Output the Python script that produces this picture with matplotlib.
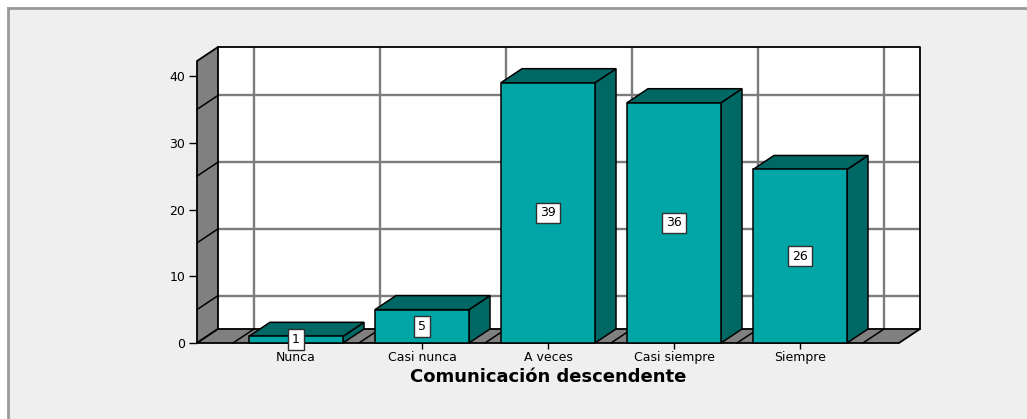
import matplotlib
matplotlib.use("Agg")
import matplotlib.pyplot as plt
from matplotlib.patches import Rectangle, Polygon
import matplotlib.transforms as mtransforms

# Data
categories = ["Nunca", "Casi nunca", "A veces", "Casi siempre", "Siempre"]
counts = [1, 5, 39, 36, 26]
y_ticks = [0, 10, 20, 30, 40]
grid_values = [5, 15, 25, 35]
x_title = "Comunicación descendente"

# Styling
FRONT = "#00a6a6"
DARK = "#006864"
WALL = "#808080"
GRID = "#7c7c7c"
BG = "#efefef"
plt.rcParams["font.family"] = ["DejaVu Sans"]

W, H = 1027, 419
fig = plt.figure(figsize=(W / 100, H / 100), dpi=100, facecolor="white")

# Panel background with a grey line on the top and left edges
fig.patches.append(Rectangle((8 / W, 0), 1 - 8 / W, 1 - 8 / H, transform=fig.transFigure,
                             facecolor=BG, edgecolor="none", zorder=-5))
fig.add_artist(plt.Line2D([8 / W, 1], [1 - 8 / H, 1 - 8 / H], transform=fig.transFigure,
                          color="#9a9a9a", lw=2, zorder=-4))
fig.add_artist(plt.Line2D([8 / W, 8 / W], [0, 1 - 8 / H], transform=fig.transFigure,
                          color="#9a9a9a", lw=2, zorder=-4))

# Axes occupying the front plane plus the depth offset of the 3D box
left_px, right_px, top_px, bottom_px = 197, 920, 47, 343
ax = fig.add_axes([left_px / W, 1 - bottom_px / H, (right_px - left_px) / W, (bottom_px - top_px) / H])
ax.set_zorder(2)
ax.set_facecolor("none")

n = len(categories)
margin = 0.2857           # floor margin beyond the outer category edges
XL, XR = -0.5 - margin, n - 0.5 + margin
DX = 0.1667               # depth offset in x (category units)
DY = 2.10                 # depth offset in y (value units)
YT = 42.25                # top of the front plane
bar_w = 0.746

ax.set_xlim(XL, XR + DX)
ax.set_ylim(0, YT + DY)
for s in ax.spines.values():
    s.set_visible(False)

# Back wall
ax.add_patch(Rectangle((XL + DX, DY), XR - XL, YT, facecolor="white", edgecolor="none",
                       zorder=1, clip_on=False))
for v in grid_values:
    ax.plot([XL + DX, XR + DX], [v + DY, v + DY], color=GRID, lw=1.7, zorder=2,
            solid_capstyle="butt", clip_on=False)
bounds = [i - 0.5 for i in range(n + 1)]
for b in bounds:
    ax.plot([b + DX, b + DX], [DY, YT + DY], color=GRID, lw=1.7, zorder=2,
            solid_capstyle="butt", clip_on=False)
ax.plot([XL + DX, XR + DX, XR + DX], [YT + DY, YT + DY, DY], color="black", lw=1.3,
        zorder=3, clip_on=False)

# Left side wall
ax.add_patch(Polygon([(XL, 0), (XL + DX, DY), (XL + DX, YT + DY), (XL, YT)], closed=True,
                     facecolor=WALL, edgecolor="black", lw=1.3, zorder=3, clip_on=False))
for v in grid_values:
    ax.plot([XL, XL + DX], [v, v + DY], color="black", lw=1.1, zorder=4, clip_on=False)

# Floor
ax.add_patch(Polygon([(XL, 0), (XR, 0), (XR + DX, DY), (XL + DX, DY)], closed=True,
                     facecolor=WALL, edgecolor="black", lw=1.3, zorder=3, clip_on=False))
for b in bounds:
    ax.plot([b, b + DX], [0, DY], color="black", lw=1.1, zorder=4, clip_on=False)

# 3D bars
for i, v in enumerate(counts):
    x0, x1 = i - bar_w / 2, i + bar_w / 2
    ax.add_patch(Polygon([(x1, 0), (x1 + DX, DY), (x1 + DX, v + DY), (x1, v)], closed=True,
                         facecolor=DARK, edgecolor="black", lw=1.1, zorder=5, clip_on=False))
    ax.add_patch(Polygon([(x0, v), (x1, v), (x1 + DX, v + DY), (x0 + DX, v + DY)], closed=True,
                         facecolor=DARK, edgecolor="black", lw=1.1, zorder=5, clip_on=False))
    ax.add_patch(Rectangle((x0, 0), bar_w, v, facecolor=FRONT, edgecolor="black", lw=1.1,
                           zorder=6, clip_on=False))
    ax.text(i, v / 2, str(v), ha="center", va="center", fontsize=9, color="black", zorder=8,
            bbox=dict(boxstyle="square,pad=0.3", facecolor="white", edgecolor="#303030", lw=1))

# Ticks
ax.set_yticks(y_ticks)
ax.set_yticklabels([str(t) for t in y_ticks])
ax.set_xticks(range(n))
ax.set_xticklabels(categories)
ax.tick_params(axis="y", direction="out", length=5.5, width=1, pad=3, labelsize=9, colors="black")
ax.tick_params(axis="x", direction="out", length=4.5, width=1, pad=1.5, labelsize=9, colors="black")

# Axis title centred under the floor
trans = mtransforms.blended_transform_factory(ax.transData, fig.transFigure)
ax.text((n - 1) / 2, 1 - 377 / H, x_title, transform=trans, ha="center", va="center",
        fontsize=13, fontweight="bold", color="black")

fig.savefig("out.png", dpi=100, facecolor=fig.get_facecolor())
